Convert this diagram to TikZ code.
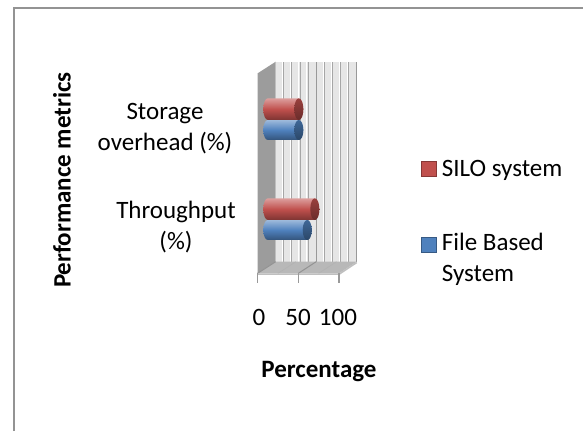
\documentclass[tikz,border=0pt]{standalone}
\usepackage{fontspec}
\setmainfont{Carlito}
\definecolor{silored}{HTML}{C0504D}
\definecolor{fileblue}{HTML}{4F81BD}
\definecolor{wallgray}{HTML}{E6E6E6}
\definecolor{sidegray}{HTML}{9C9C9C}
\definecolor{floorgray}{HTML}{B8B8B8}
\definecolor{linegray}{HTML}{A6A6A6}
\newcommand{\cylbar}[5]{%
  \pgfmathsetmacro\cylr{(#3-#4)/2}%
  \pgfmathsetmacro\cylm{(#3+#4)/2}%
  \shade[top color=#5!55!white, bottom color=#5!65!black, middle color=#5]
    (#1+4.5,#3) -- (#2-4.5,#3) arc[start angle=90,end angle=-90,x radius=4.5,y radius=\cylr]
    -- (#1+4.5,#4) arc[start angle=270,end angle=90,x radius=4.5,y radius=\cylr] -- cycle;
  \shade[top color=#5!80!black, bottom color=#5!55!black]
    (#2-4.5,\cylm) ellipse[x radius=4.5, y radius=\cylr];
}
\tikzset{
  txt/.style={font=\fontsize{25}{31}\selectfont, inner sep=0pt},
  btxt/.style={txt, font=\fontsize{25}{31}\selectfont\bfseries},
  gridln/.style={draw=linegray, line width=0.9pt},
  majorln/.style={draw=gray!80, line width=1.1pt},
  tick/.style={draw=gray!80, line width=1.2pt},
  frame/.style={draw=gray!85, line width=1.4pt},
}
\begin{document}
\begin{tikzpicture}[x=1pt,y=1pt]
\useasboundingbox (0,0) rectangle (583,431);
% frame
\draw[frame] (14,0) -- (14,423) -- (583,423);
% back wall
\fill[wallgray] (275.7,169.3) rectangle (356.7,369.3);
\foreach \k in {1,2,3,4,6,7,8,9}{
  \draw[white, line width=1pt] (275.7+8.1*\k-1.3,169.3) -- ++(0,200);
  \draw[gridln] (275.7+8.1*\k,169.3) -- ++(0,200);
}
\foreach \k in {5,10}{
  \draw[majorln] (275.7+8.1*\k,169.3) -- ++(0,200);
}
% side wall
\fill[sidegray] (257.5,157.6) -- (257.5,357.6) -- (275.7,369.3) -- (275.7,169.3) -- cycle;
% floor
\fill[floorgray] (257.5,157.6) -- (339,157.6) -- (356.7,169.3) -- (275.7,169.3) -- cycle;
\draw[gray!60, line width=0.6pt] (277.9,157.6) -- (295.9,169.3);
\draw[gray!60, line width=0.6pt] (318.6,157.6) -- (336.5,169.3);
\draw[gray!85, line width=1pt] (298.25,157.6) -- (316.2,169.3);
\draw[gray!85, line width=1pt] (257.5,157.6) -- (275.7,169.3);
\draw[gray!50, line width=1.6pt] (257.5,156.8) -- (339,156.8) -- (356.7,168.5);
% ticks
\draw[tick] (257.5,157.6) -- (257.5,148);
\draw[tick] (298.25,157.6) -- (298.25,148);
\draw[tick] (339,157.6) -- (339,148);
% bars
\cylbar{263.3}{303.3}{311}{291}{fileblue}
\cylbar{263.3}{303.3}{332.7}{311}{silored}
\cylbar{263.3}{311.7}{211}{191}{fileblue}
\cylbar{263.3}{319.3}{232.7}{211}{silored}
% category labels
\node[txt, align=center] (cat2) at (165,302) {Storage\\overhead (\%)};
\node[txt, align=center] (cat1) at (176,203.5) {Throughput\\(\%)};
\node[btxt, rotate=90] (ytitle) at (62,251) {Performance metrics};
% tick labels
\node[txt] (t0) at (259,114) {0};
\node[txt] (t50) at (298,114) {50};
\node[txt] (t100) at (338,114) {100};
\node[btxt] (xtitle) at (319,59) {Percentage};
% legend
\fill[silored, draw=silored!70!black, line width=0.8pt] (421,254.5) rectangle (436,269.5);
\node[txt, anchor=west] (leg1) at (441.7,261) {SILO system};
\fill[fileblue, draw=fileblue!70!black, line width=0.8pt] (421,178.5) rectangle (436,193.5);
\node[txt, anchor=west, align=left] (leg2) at (441.7,171.5) {File Based\\System};
\end{tikzpicture}
\end{document}
